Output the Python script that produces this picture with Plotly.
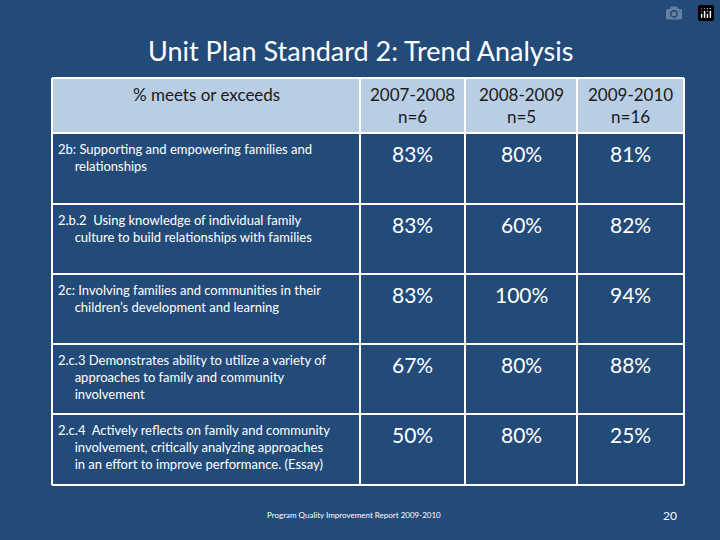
import plotly.graph_objects as go

title = "Unit Plan Standard 2: Trend Analysis"
headers = ["% meets or exceeds", "2007-2008<br>n=6", "2008-2009<br>n=5", "2009-2010<br>n=16"]
ind = "\u00a0" * 5
standards = [
    "2b: Supporting and empowering families and<br>" + ind + "relationships",
    "2.b.2  Using knowledge of individual family<br>" + ind + "culture to build relationships with families",
    "2c: Involving families and communities in their<br>" + ind + "children’s development and learning",
    "2.c.3 Demonstrates ability to utilize a variety of<br>" + ind + "approaches to family and community<br>" + ind + "involvement",
    "2.c.4  Actively reflects on family and community<br>" + ind + "involvement, critically analyzing approaches<br>" + ind + "in an effort to improve performance. (Essay)",
]
y2008 = ["83%", "83%", "83%", "67%", "50%"]
y2009 = ["80%", "60%", "100%", "80%", "80%"]
y2010 = ["81%", "82%", "94%", "88%", "25%"]

BG = "#234b7a"
W, H = 720, 540
colx = [52, 360, 465, 577, 684]
rowy = [78, 133, 204, 274, 344, 414, 485]
FONT = "Lato"

fig = go.Figure()
shapes, ann = [], []
# header background
shapes.append(dict(type="rect", x0=colx[0], x1=colx[-1], y0=rowy[0], y1=rowy[1],
                   fillcolor="#b9cde5", line=dict(width=0), layer="below"))
for x in colx:
    shapes.append(dict(type="line", x0=x, x1=x, y0=rowy[0], y1=rowy[-1], line=dict(color="white", width=2)))
for y in rowy:
    shapes.append(dict(type="line", x0=colx[0], x1=colx[-1], y0=y, y1=y, line=dict(color="white", width=2)))
# header texts
ann.append(dict(text=headers[0], x=(colx[0] + colx[1]) / 2, y=94, yanchor="middle", xanchor="center",
                font=dict(family=FONT, size=17, color="#1a1a1a")))
for i in range(1, 4):
    ann.append(dict(text=headers[i], x=(colx[i] + colx[i + 1]) / 2, y=(rowy[0] + rowy[1]) / 2,
                    yanchor="middle", xanchor="center", align="center",
                    font=dict(family=FONT, size=17, color="#1a1a1a")))
cols = [y2008, y2009, y2010]
for r in range(5):
    top = rowy[r + 1]
    ann.append(dict(text=standards[r], x=colx[0] + 4, y=top + 6, xanchor="left", yanchor="top", align="left",
                    font=dict(family=FONT, size=13, color="white")))
    for c in range(3):
        ann.append(dict(text=cols[c][r], x=(colx[c + 1] + colx[c + 2]) / 2, y=top + 20, xanchor="center",
                        yanchor="middle", font=dict(family=FONT, size=21, color="white")))
ann.append(dict(text=title, x=360, y=50, xanchor="center", yanchor="middle",
                font=dict(family=FONT, size=27, color="white")))
ann.append(dict(text="Program Quality Improvement Report 2009-2010", x=354, y=515, yanchor="middle",
                font=dict(family=FONT, size=8, color="white")))
ann.append(dict(text="20", x=670, y=515, yanchor="middle", font=dict(family=FONT, size=12, color="white")))
for a in ann:
    a.update(xref="x", yref="y", showarrow=False)

fig.update_layout(width=W, height=H, paper_bgcolor=BG, plot_bgcolor=BG,
                  margin=dict(l=0, r=0, t=0, b=0), shapes=shapes, annotations=ann,
                  xaxis=dict(range=[0, W], visible=False, fixedrange=True),
                  yaxis=dict(range=[H, 0], visible=False, fixedrange=True),
                  showlegend=False)
fig.write_html("out.html", post_script="document.body.style.margin='0';document.body.style.background='%s';" % BG)
